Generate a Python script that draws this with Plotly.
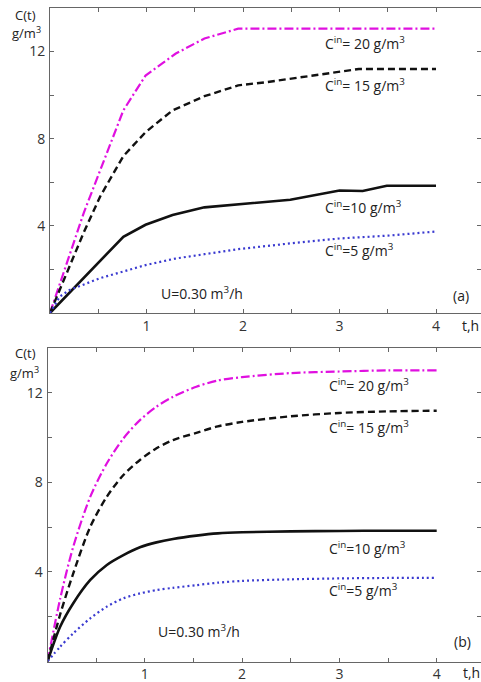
import plotly.graph_objects as go

# ---- data: panel (a) ----
a_t20 = [0, 0.35, 0.76, 0.99, 1.3, 1.6, 1.95, 2.0, 3.0, 4.0]
a_c20 = [0, 4.6, 9.3, 10.9, 11.9, 12.6, 13.05, 13.05, 13.05, 13.05]
a_t15 = [0, 0.35, 0.52, 0.76, 0.99, 1.27, 1.6, 1.95, 2.25, 3.0, 3.2, 4.0]
a_c15 = [0, 3.7, 5.35, 7.2, 8.3, 9.3, 9.95, 10.45, 10.6, 11.1, 11.2, 11.2]
a_t10 = [0, 0.76, 0.99, 1.27, 1.6, 1.95, 2.49, 3.0, 3.24, 3.49, 4.0]
a_c10 = [0, 3.5, 4.05, 4.5, 4.85, 5.0, 5.2, 5.62, 5.6, 5.84, 5.84]
a_t5 = [0, 0.1, 0.2, 0.52, 0.99, 1.3, 1.6, 1.95, 2.5, 3.0, 3.5, 4.0]
a_c5 = [0, 0.75, 1.05, 1.6, 2.2, 2.5, 2.7, 2.93, 3.2, 3.42, 3.55, 3.74]

# ---- data: panel (b) ----
b_t = [0, 0.13, 0.265, 0.44, 0.61, 0.78, 0.95, 1.12, 1.29, 1.53, 1.75, 2.0, 2.5, 3.0, 3.5, 4.0]
b_c20 = [0, 2.8, 5.13, 7.36, 8.85, 9.96, 10.78, 11.38, 11.82, 12.27, 12.55, 12.7, 12.88, 12.95, 13.0, 13.0]
b_c15 = [0, 2.1, 3.94, 6.02, 7.36, 8.33, 9.0, 9.52, 9.89, 10.21, 10.5, 10.7, 10.95, 11.1, 11.17, 11.2]
b_c10 = [0, 1.55, 2.6, 3.64, 4.31, 4.75, 5.1, 5.32, 5.47, 5.62, 5.72, 5.77, 5.81, 5.83, 5.84, 5.84]
b_c5 = [0, 0.66, 1.26, 1.93, 2.45, 2.82, 3.04, 3.19, 3.29, 3.41, 3.52, 3.6, 3.67, 3.71, 3.73, 3.73]

x_tickvals = [0.5, 1, 1.5, 2, 2.5, 3, 3.5, 4]
x_ticktext = ["", "1", "", "2", "", "3", "", "4"]
y_tickvals = [2, 4, 6, 8, 10, 12]
y_ticktext = ["", "4", "", "8", "", "12"]

series_labels = ["C<sup>in</sup>= 20 g/m<sup>3</sup>", "C<sup>in</sup>= 15 g/m<sup>3</sup>",
                 "C<sup>in</sup>=10 g/m<sup>3</sup>", "C<sup>in</sup>=5 g/m<sup>3</sup>"]

W, H = 481, 682
FONT = "Open Sans"
MAG = "#e010e0"
BLUE = "#3a3ad0"

styles = [
    dict(color=MAG, width=2.2, dash="9px,3px,2px,3px"),
    dict(color="#111111", width=2.4, dash="7px,4px"),
    dict(color="#111111", width=2.6, dash="solid"),
    dict(color=BLUE, width=2.2, dash="2px,3px"),
]

fig = go.Figure()

panel_a = [(a_t20, a_c20), (a_t15, a_c15), (a_t10, a_c10), (a_t5, a_c5)]
panel_b = [(b_t, b_c20), (b_t, b_c15), (b_t, b_c10), (b_t, b_c5)]

for (tx, cy), st in zip(panel_a, styles):
    fig.add_trace(go.Scatter(x=tx, y=cy, mode="lines", line=st, xaxis="x", yaxis="y",
                             showlegend=False, hoverinfo="skip"))
for (tx, cy), st in zip(panel_b, styles):
    fig.add_trace(go.Scatter(x=tx, y=cy, mode="lines", line=dict(st, shape="spline", smoothing=0.8),
                             xaxis="x2", yaxis="y2", showlegend=False, hoverinfo="skip"))

def px_x(p):
    return p / W

def px_y(p):
    return 1 - p / H

axis_common = dict(showgrid=False, zeroline=False, showline=True, linecolor="#666666",
                   linewidth=1, mirror="ticks", ticks="inside", ticklen=4,
                   tickcolor="#666666", tickfont=dict(family=FONT, size=14, color="#333333"))

fig.update_layout(
    width=W, height=H, margin=dict(l=0, r=0, t=0, b=0),
    paper_bgcolor="white", plot_bgcolor="white",
    xaxis=dict(axis_common, domain=[px_x(50), 1.0], range=[0, (W - 50) / 96.5],
               tickvals=x_tickvals, ticktext=x_ticktext, anchor="y"),
    yaxis=dict(axis_common, domain=[px_y(313), px_y(8)], range=[0, 14],
               tickvals=y_tickvals, ticktext=y_ticktext, anchor="x", ticklabelstandoff=1),
    xaxis2=dict(axis_common, domain=[px_x(47.5), 1.0], range=[0, (W - 47.5) / 97.3],
                tickvals=x_tickvals, ticktext=x_ticktext, anchor="y2"),
    yaxis2=dict(axis_common, domain=[px_y(661.5), px_y(348)], range=[0, 14],
                tickvals=y_tickvals, ticktext=y_ticktext, anchor="x2", ticklabelstandoff=1),
)

ann = []
def txt(x, y, s, size=14, xanchor="left"):
    ann.append(dict(x=px_x(x), y=px_y(y), xref="paper", yref="paper", text=s, showarrow=False,
                    xanchor=xanchor, yanchor="middle", borderpad=0,
                    font=dict(family=FONT, size=size, color="#222222")))

label_y_a = [43, 85, 207, 250]
label_y_b = [385, 427, 548, 590]
for s, ya, yb in zip(series_labels, label_y_a, label_y_b):
    txt(324, ya, s)
    txt(328, yb, s)

txt(160, 293, "U=0.30 m<sup>3</sup>/h")
txt(157, 631, "U=0.30 m<sup>3</sup>/h")
txt(470, 295, "(a)", xanchor="right")
txt(472, 641, "(b)", xanchor="right")
txt(480, 325, "t,h", xanchor="right")
txt(481, 672, "t,h", xanchor="right")
txt(14, 15, "C(t)", size=13)
txt(11, 33, "g/m<sup>3</sup>", size=13)
txt(14, 353, "C(t)", size=13)
txt(9, 372, "g/m<sup>3</sup>", size=13)

fig.update_layout(annotations=ann)
fig.write_html("out.html", config={"displayModeBar": False},
               post_script="document.body.style.margin='0px';document.body.style.overflow='hidden';")
